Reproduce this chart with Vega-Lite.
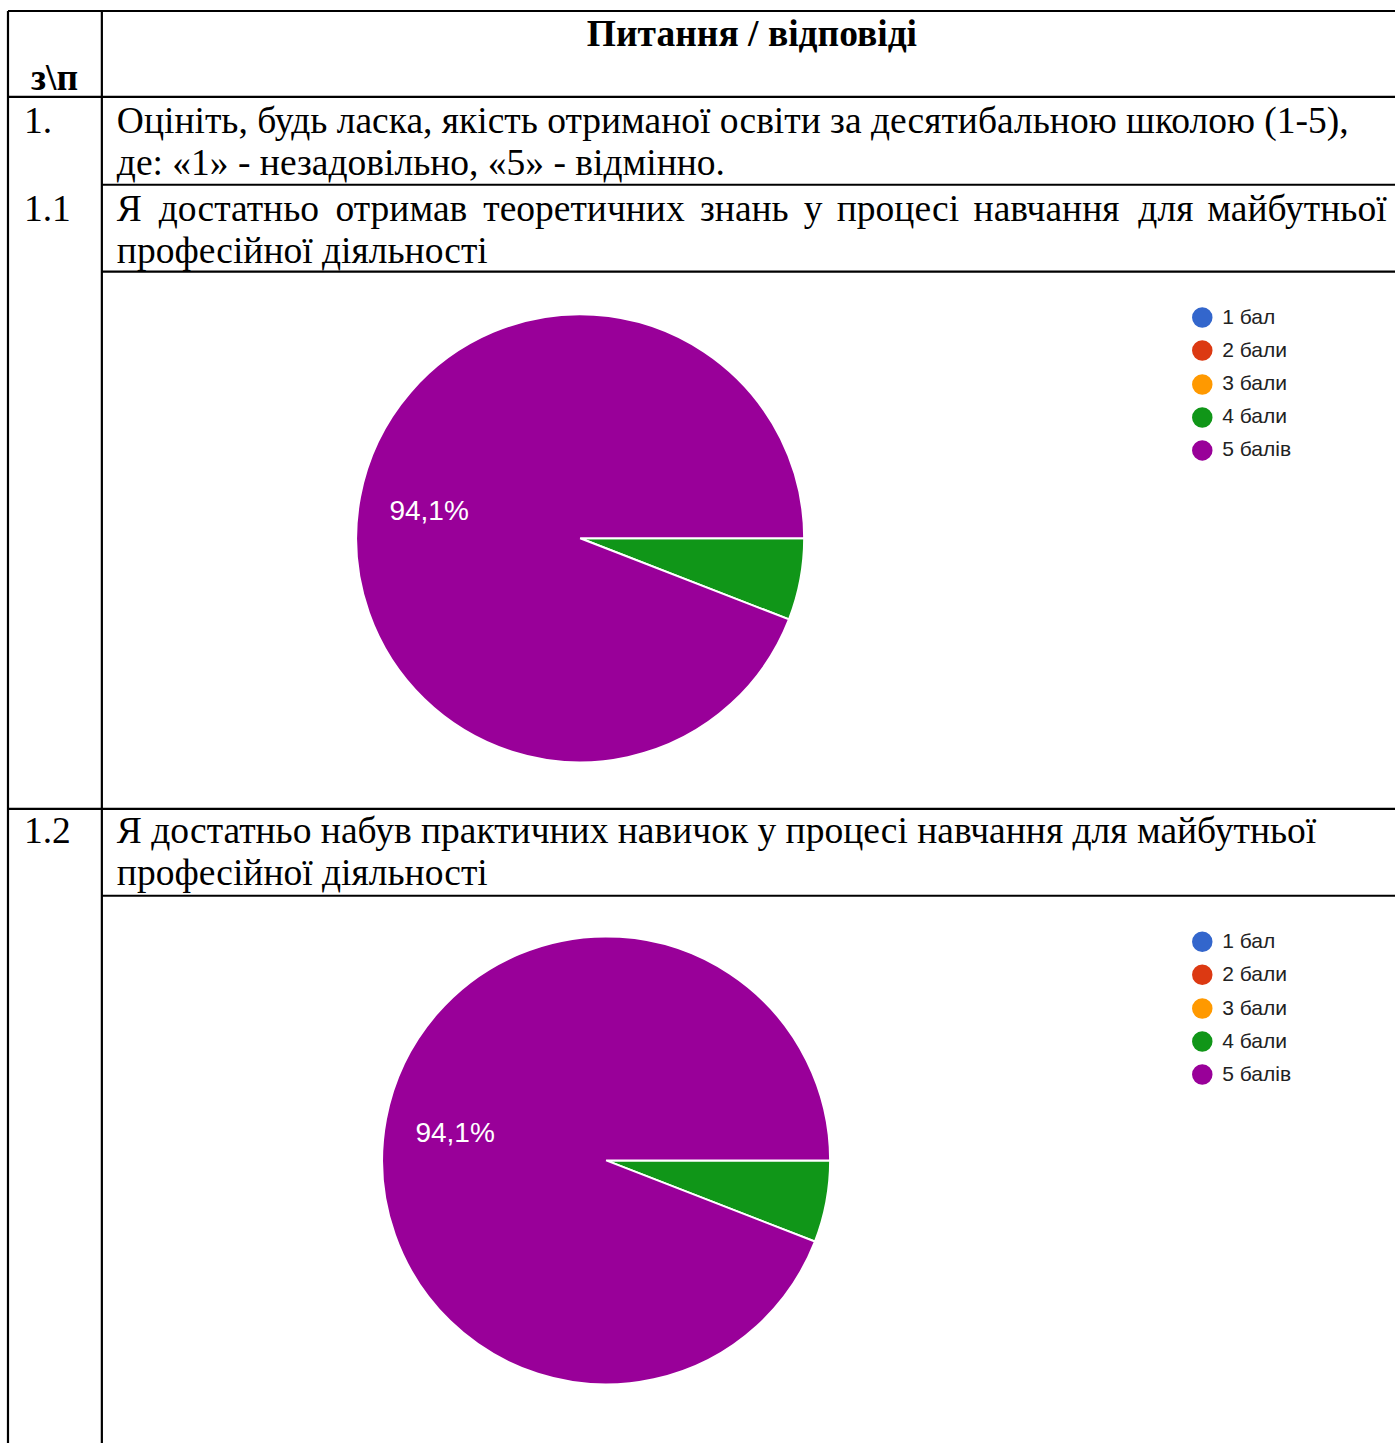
{
  "$schema": "https://vega.github.io/schema/vega-lite/v6.json",
  "width": 1397,
  "height": 1445,
  "padding": 0,
  "autosize": {"type": "fit", "contains": "padding"},
  "background": "white",
  "config": {"view": {"stroke": null}},
  "datasets": {
    "lines": [
      {"x": 8, "y": 11, "x2": 1397, "y2": 11},
      {"x": 8, "y": 97, "x2": 1397, "y2": 97},
      {"x": 102, "y": 185, "x2": 1397, "y2": 185},
      {"x": 102, "y": 272, "x2": 1397, "y2": 272},
      {"x": 8, "y": 810, "x2": 1397, "y2": 810},
      {"x": 102, "y": 897, "x2": 1397, "y2": 897},
      {"x": 8, "y": 11, "x2": 8, "y2": 1445},
      {"x": 102, "y": 11, "x2": 102, "y2": 1445}
    ],
    "body": [
      {"x": 24, "y": 133, "t": "1."},
      {"x": 117, "y": 133, "t": "Оцініть, будь ласка, якість отриманої освіти за десятибальною школою (1-5),"},
      {"x": 117, "y": 175, "t": "де: «1» - незадовільно, «5» - відмінно."},
      {"x": 24, "y": 221, "t": "1.1"},
      {"x": 117, "y": 221, "t": "Я"},
      {"x": 159, "y": 221, "t": "достатньо"},
      {"x": 336, "y": 221, "t": "отримав"},
      {"x": 484, "y": 221, "t": "теоретичних"},
      {"x": 701, "y": 221, "t": "знань"},
      {"x": 805, "y": 221, "t": "у"},
      {"x": 838, "y": 221, "t": "процесі"},
      {"x": 975, "y": 221, "t": "навчання"},
      {"x": 1140, "y": 221, "t": "для"},
      {"x": 1209, "y": 221, "t": "майбутньої"},
      {"x": 117, "y": 263, "t": "професійної діяльності"},
      {"x": 24, "y": 844, "t": "1.2"},
      {"x": 117, "y": 844, "t": "Я достатньо набув практичних навичок у процесі навчання для майбутньої"},
      {"x": 117, "y": 886, "t": "професійної діяльності"}
    ],
    "pie1": [
      {"cat": "4 бали", "pct": 5.9, "cx": 581, "cy": 539},
      {"cat": "5 балів", "pct": 94.1, "cx": 581, "cy": 539}
    ],
    "pie2": [
      {"cat": "4 бали", "pct": 5.9, "cx": 607, "cy": 1162},
      {"cat": "5 балів", "pct": 94.1, "cx": 607, "cy": 1162}
    ],
    "pielabels": [
      {"x": 390, "y": 521, "t": "94,1%"},
      {"x": 416, "y": 1144, "t": "94,1%"}
    ],
    "legend": [
      {"cat": "1 бал", "x": 1204, "y": 318},
      {"cat": "2 бали", "x": 1204, "y": 351},
      {"cat": "3 бали", "x": 1204, "y": 385},
      {"cat": "4 бали", "x": 1204, "y": 418},
      {"cat": "5 балів", "x": 1204, "y": 451},
      {"cat": "1 бал", "x": 1204, "y": 943},
      {"cat": "2 бали", "x": 1204, "y": 976},
      {"cat": "3 бали", "x": 1204, "y": 1010},
      {"cat": "4 бали", "x": 1204, "y": 1043},
      {"cat": "5 балів", "x": 1204, "y": 1076}
    ]
  },
  "layer": [
    {
      "data": {"name": "lines"},
      "mark": {"type": "rule", "stroke": "black", "strokeWidth": 2.2},
      "encoding": {
        "x": {"field": "x", "type": "quantitative", "scale": {"domain": [0, 1397], "nice": false, "zero": false}, "axis": null},
        "y": {"field": "y", "type": "quantitative", "scale": {"domain": [0, 1445], "nice": false, "zero": false, "reverse": true}, "axis": null},
        "x2": {"field": "x2"},
        "y2": {"field": "y2"}
      }
    },
    {
      "data": {"name": "body"},
      "mark": {"type": "text", "align": "left", "baseline": "alphabetic", "font": "Liberation Serif", "fontSize": 37.5, "color": "black"},
      "encoding": {
        "x": {"field": "x", "type": "quantitative"},
        "y": {"field": "y", "type": "quantitative"},
        "text": {"field": "t"}
      }
    },
    {
      "data": {"values": [{"x": 753, "y": 46, "t": "Питання / відповіді"}]},
      "mark": {"type": "text", "align": "center", "baseline": "alphabetic", "font": "Liberation Serif", "fontSize": 37.5, "fontWeight": "bold", "color": "black"},
      "encoding": {
        "x": {"field": "x", "type": "quantitative"},
        "y": {"field": "y", "type": "quantitative"},
        "text": {"field": "t"}
      }
    },
    {
      "data": {"values": [{"x": 31, "y": 90, "t": "з\\п"}]},
      "mark": {"type": "text", "align": "left", "baseline": "alphabetic", "font": "Liberation Serif", "fontSize": 37.5, "fontWeight": "bold", "color": "black"},
      "encoding": {
        "x": {"field": "x", "type": "quantitative"},
        "y": {"field": "y", "type": "quantitative"},
        "text": {"field": "t"}
      }
    },
    {
      "data": {"name": "pie1"},
      "mark": {"type": "arc", "outerRadius": 224, "stroke": "white", "strokeWidth": 2},
      "encoding": {
        "x": {"field": "cx", "type": "quantitative"},
        "y": {"field": "cy", "type": "quantitative"},
        "theta": {"field": "pct", "type": "quantitative", "stack": true, "scale": {"range": [1.5708, 7.854]}},
        "order": {"field": "cat", "sort": "ascending"},
        "color": {"field": "cat", "type": "nominal", "legend": null, "scale": {"domain": ["1 бал", "2 бали", "3 бали", "4 бали", "5 балів"], "range": ["#3366cc", "#dc3912", "#ff9900", "#109618", "#990099"]}}
      }
    },
    {
      "data": {"name": "pie2"},
      "mark": {"type": "arc", "outerRadius": 224, "stroke": "white", "strokeWidth": 2},
      "encoding": {
        "x": {"field": "cx", "type": "quantitative"},
        "y": {"field": "cy", "type": "quantitative"},
        "theta": {"field": "pct", "type": "quantitative", "stack": true},
        "order": {"field": "cat", "sort": "ascending"},
        "color": {"field": "cat", "type": "nominal", "legend": null}
      }
    },
    {
      "data": {"name": "pielabels"},
      "mark": {"type": "text", "align": "left", "baseline": "alphabetic", "font": "Liberation Sans", "fontSize": 28, "color": "white"},
      "encoding": {
        "x": {"field": "x", "type": "quantitative"},
        "y": {"field": "y", "type": "quantitative"},
        "text": {"field": "t"}
      }
    },
    {
      "data": {"name": "legend"},
      "mark": {"type": "point", "filled": true, "size": 420, "shape": "circle", "opacity": 1},
      "encoding": {
        "x": {"field": "x", "type": "quantitative"},
        "y": {"field": "y", "type": "quantitative"},
        "color": {"field": "cat", "type": "nominal", "legend": null}
      }
    },
    {
      "data": {"name": "legend"},
      "mark": {"type": "text", "align": "left", "baseline": "middle", "dx": 20, "font": "Liberation Sans", "fontSize": 21, "color": "#222222"},
      "encoding": {
        "x": {"field": "x", "type": "quantitative"},
        "y": {"field": "y", "type": "quantitative"},
        "text": {"field": "cat"}
      }
    }
  ]
}
